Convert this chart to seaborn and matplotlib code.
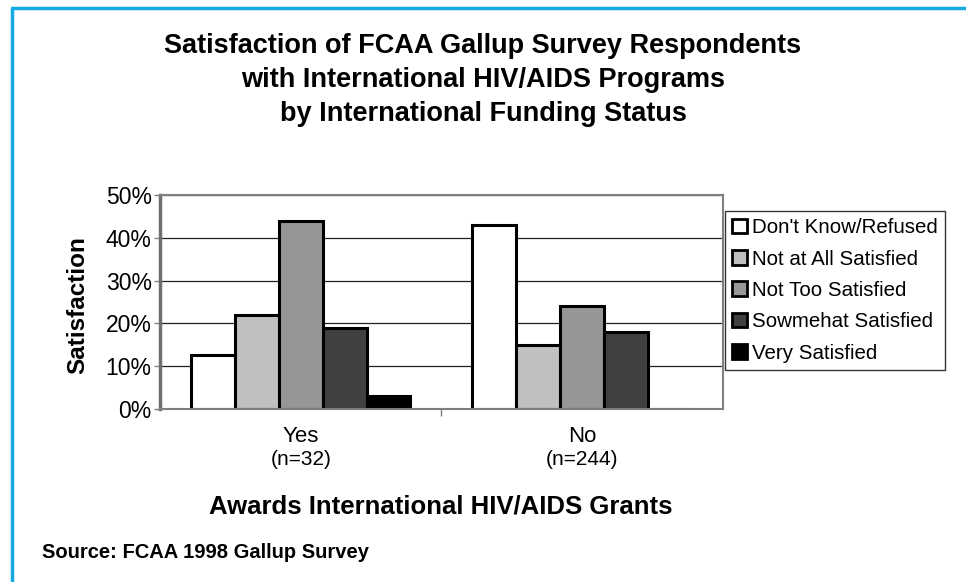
import matplotlib
matplotlib.use("Agg")
import matplotlib.pyplot as plt
import seaborn as sns
import pandas as pd
from matplotlib.lines import Line2D
from matplotlib.patches import Patch
from matplotlib.ticker import PercentFormatter

# --- data ---
groups = ["Yes", "No"]
group_n = ["(n=32)", "(n=244)"]
levels = ["Don't Know/Refused", "Not at All Satisfied", "Not Too Satisfied",
          "Sowmehat Satisfied", "Very Satisfied"]
yes_vals = [12.5, 22, 44, 19, 3]
no_vals = [43, 15, 24, 18, 0]
colors = ["#FFFFFF", "#C0C0C0", "#969696", "#404040", "#000000"]

rows = []
for g, vals in zip(groups, [yes_vals, no_vals]):
    for lvl, v in zip(levels, vals):
        rows.append({"grant": g, "level": lvl, "pct": v})
df = pd.DataFrame(rows)

sns.set_style("white")
plt.rcParams['font.family'] = ['Liberation Sans', 'DejaVu Sans']
plt.rcParams['text.color'] = 'black'
plt.rcParams['axes.labelcolor'] = 'black'
plt.rcParams['xtick.labelcolor'] = 'black'
plt.rcParams['ytick.labelcolor'] = 'black'

fig = plt.figure(figsize=(9.66, 5.82), dpi=100)
ax = fig.add_axes([0.1656, 0.2973, 0.5828, 0.3677])

sns.barplot(data=df, x="grant", y="pct", hue="level", order=groups,
            hue_order=levels, palette=colors, edgecolor="black",
            linewidth=2.2, width=0.78, ax=ax, legend=False)

ax.set_ylim(0, 50)
ax.set_xlim(-0.5, 1.5)
ax.set_yticks(range(0, 51, 10))
ax.yaxis.set_major_formatter(PercentFormatter(decimals=0))
ax.grid(axis="y", color="#202020", linewidth=0.9)
ax.set_axisbelow(True)
for side in ["top", "right", "bottom"]:
    ax.spines[side].set_color("#808080")
    ax.spines[side].set_linewidth(1.5)
ax.spines["left"].set_color("#707070")
ax.spines["left"].set_linewidth(2.5)

ax.tick_params(axis="y", labelsize=16.5, length=4, width=1, color="#808080",
               left=True, pad=2)
ax.set_xticks([0, 1])
ax.set_xticklabels(groups, fontsize=16)
ax.tick_params(axis="x", length=0, pad=12)
ax.set_xticks([0.5], minor=True)
ax.tick_params(axis="x", which="minor", length=5, width=1, color="#808080",
               bottom=True)

for i, n in enumerate(group_n):
    ax.text(i, -0.236, n, transform=ax.get_xaxis_transform(),
            ha="center", va="center", fontsize=15)

ax.set_xlabel("")
ax.set_ylabel("")
fig.text(78 / 966, 1 - 305 / 582, "Satisfaction", rotation=90,
         ha="center", va="center", fontsize=17.5, fontweight="bold")

handles = [Patch(facecolor=c, edgecolor="black", linewidth=2) for c in colors]
leg = fig.legend(handles, levels, loc="upper left",
                 bbox_to_anchor=(0.7505, 0.6375), fontsize=14.8,
                 frameon=True, fancybox=False, edgecolor="black",
                 handlelength=0.7, handleheight=0.7, handletextpad=0.25,
                 labelspacing=0.6, borderpad=0.35, borderaxespad=0)
leg.get_frame().set_linewidth(1)

fig.text(0.5, 1 - 80 / 582, "Satisfaction of FCAA Gallup Survey Respondents\n"
         "with International HIV/AIDS Programs\n"
         "by International Funding Status",
         ha="center", va="center", fontsize=19.5, fontweight="bold",
         linespacing=1.4)
fig.text(441 / 966, 1 - 507 / 582, "Awards International HIV/AIDS Grants",
         ha="center", va="center", fontsize=18.5, fontweight="bold")
fig.text(42 / 966, 1 - 552 / 582, "Source: FCAA 1998 Gallup Survey",
         ha="left", va="center", fontsize=14.5, fontweight="bold")

# blue frame on top and left edges
blue = "#14A9E3"
fig.add_artist(Line2D([12 / 966, 1.0], [1 - 8 / 582, 1 - 8 / 582],
                      color=blue, linewidth=2.5, transform=fig.transFigure))
fig.add_artist(Line2D([12 / 966, 12 / 966], [0, 1 - 8 / 582],
                      color=blue, linewidth=2.5, transform=fig.transFigure))

fig.savefig("out.png", dpi=100)
